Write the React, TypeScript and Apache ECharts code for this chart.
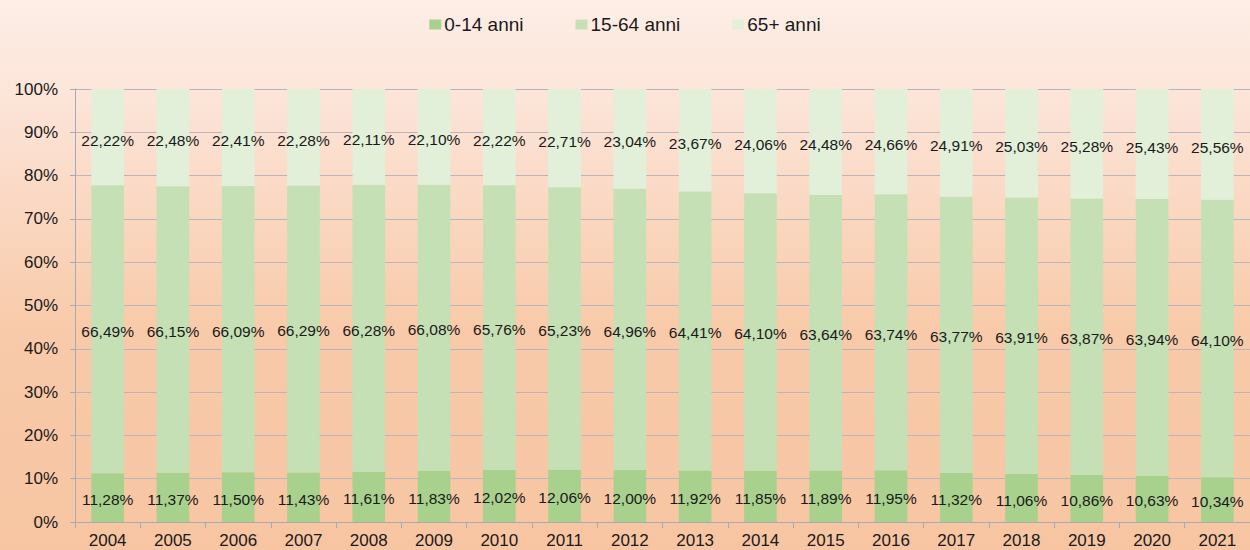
import React, { useEffect, useRef } from "react";
import * as echarts from "echarts";

const years = ["2004","2005","2006","2007","2008","2009","2010","2011","2012","2013","2014","2015","2016","2017","2018","2019","2020","2021"];
const age0to14 = [11.28, 11.37, 11.5, 11.43, 11.61, 11.83, 12.02, 12.06, 12.0, 11.92, 11.85, 11.89, 11.95, 11.32, 11.06, 10.86, 10.63, 10.34];
const age15to64 = [66.49, 66.15, 66.09, 66.29, 66.28, 66.08, 65.76, 65.23, 64.96, 64.41, 64.1, 63.64, 63.74, 63.77, 63.91, 63.87, 63.94, 64.1];
const age65plus = [22.22, 22.48, 22.41, 22.28, 22.11, 22.1, 22.22, 22.71, 23.04, 23.67, 24.06, 24.48, 24.66, 24.91, 25.03, 25.28, 25.43, 25.56];
const seriesNames = ["0-14 anni", "15-64 anni", "65+ anni"];
const colors = ["#a9d18e", "#c5e0b4", "#e2f0d9"];

const fmt = (v: number) => v.toFixed(2).replace(".", ",") + "%";

export default function App() {
  const ref = useRef<HTMLDivElement>(null);
  useEffect(() => {
    const chart = echarts.init(ref.current!, null, { renderer: "svg" });
    const font = "'Liberation Sans', Arial, sans-serif";
    const mk = (name: string, data: number[], color: string, offsetY: number) => ({
      name,
      type: "bar",
      stack: "total",
      data,
      barWidth: "50%",
      itemStyle: { color },
      label: {
        show: true,
        position: "inside",
        offset: [0, offsetY],
        formatter: (p: any) => fmt(p.value),
        color: "#1a1a1a",
        fontSize: 15.5,
        fontFamily: font,
      },
    });
    chart.setOption({
      animation: false,
      backgroundColor: {
        type: "linear",
        x: 0, y: 0, x2: 0, y2: 1,
        colorStops: [
          { offset: 0, color: "#fdeee6" },
          { offset: 0.2, color: "#fce3d6" },
          { offset: 0.6, color: "#f8caa9" },
          { offset: 1, color: "#f7c5a2" },
        ],
      },
      legend: {
        data: seriesNames,
        top: 10,
        left: "center",
        itemWidth: 12,
        itemHeight: 10,
        itemGap: 52,
        icon: "rect",
        textStyle: { fontSize: 19, fontFamily: font, color: "#1a1a1a", padding: [0, 0, 0, -2] },
      },
      grid: { left: 75, width: 1179, top: 89, bottom: 28, containLabel: false },
      xAxis: {
        type: "category",
        data: years,
        axisLine: { lineStyle: { color: "#a9a9b4" } },
        axisTick: { show: true, length: 6, lineStyle: { color: "#a9a9b4" } },
        axisLabel: { fontSize: 17, fontFamily: font, color: "#1a1a1a", margin: 10 },
      },
      yAxis: {
        type: "value",
        min: 0,
        max: 100,
        interval: 10,
        axisLine: { show: true, lineStyle: { color: "#a9a9b4" } },
        axisTick: { show: true, length: 5, lineStyle: { color: "#a9a9b4" } },
        splitLine: { lineStyle: { color: "#b9b5bd" } },
        axisLabel: { formatter: "{value}%", fontSize: 17, fontFamily: font, color: "#1a1a1a", margin: 17 },
      },
      series: [
        mk(seriesNames[0], age0to14, colors[0], 2),
        mk(seriesNames[1], age15to64, colors[1], 2),
        mk(seriesNames[2], age65plus, colors[2], 3),
      ],
    });
    return () => chart.dispose();
  }, []);
  return (
    <div
      ref={ref}
      style={{ position: "fixed", left: 0, top: 0, width: 1250, height: 550 }}
    />
  );
}
